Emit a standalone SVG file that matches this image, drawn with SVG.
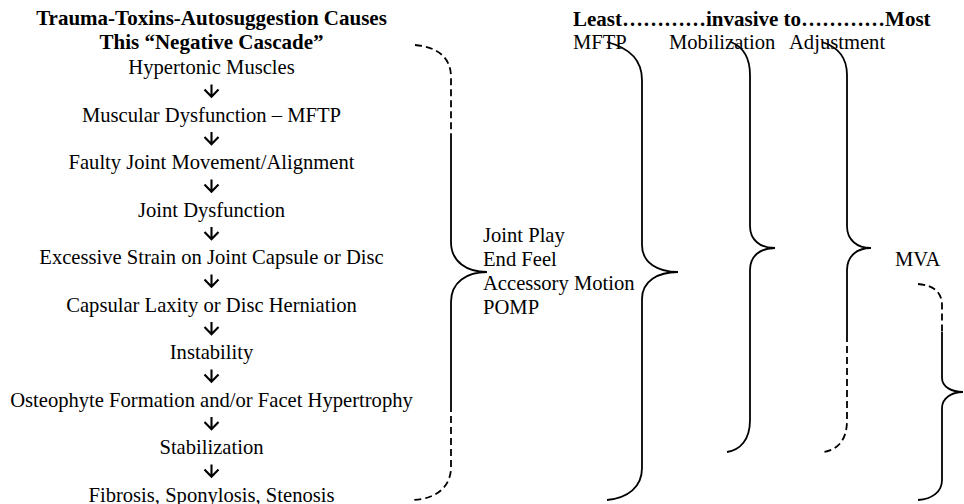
<svg xmlns="http://www.w3.org/2000/svg" width="964" height="504" viewBox="0 0 964 504">
<style>
text{font-family:"Liberation Serif","Times New Roman",serif;fill:#000;font-size:20.6px}
.b{font-weight:bold;font-size:21px}
.c{text-anchor:middle}
.br{fill:none;stroke:#000;stroke-width:1.8}
.d{stroke-dasharray:7 4}
.ar{fill:none;stroke:#000;stroke-width:2.1;stroke-linejoin:miter}
</style>
<defs>
<path id="arrow" class="ar" d="M211.5,84.5 L211.5,96.5 M204.5,89.5 L211.5,96.8 L218.5,89.5"/>
</defs>
<rect width="964" height="504" fill="#fff"/>
<g id="header-left">
<text class="b c" x="211.5" y="25">Trauma-Toxins-Autosuggestion Causes</text>
<text class="b c" x="211.5" y="48.5">This “Negative Cascade”</text>
</g>
<g id="header-right">
<text class="b" x="573" y="25.5">Least…………invasive to…………Most</text>
<text x="573" y="48.5">MFTP</text>
<text x="669" y="48.5">Mobilization</text>
<text x="789" y="48.5">Adjustment</text>
</g>
<g id="n1"><text class="c" x="211.5" y="74">Hypertonic Muscles</text></g>
<g id="n2"><text class="c" x="211.5" y="121.5">Muscular Dysfunction – MFTP</text></g>
<g id="n3"><text class="c" x="211.5" y="169">Faulty Joint Movement/Alignment</text></g>
<g id="n4"><text class="c" x="211.5" y="216.5">Joint Dysfunction</text></g>
<g id="n5"><text class="c" x="211.5" y="264">Excessive Strain on Joint Capsule or Disc</text></g>
<g id="n6"><text class="c" x="211.5" y="311.5">Capsular Laxity or Disc Herniation</text></g>
<g id="n7"><text class="c" x="211.5" y="359">Instability</text></g>
<g id="n8"><text class="c" x="211.5" y="406.5">Osteophyte Formation and/or Facet Hypertrophy</text></g>
<g id="n9"><text class="c" x="211.5" y="454">Stabilization</text></g>
<g id="n10"><text class="c" x="211.5" y="501.5">Fibrosis, Sponylosis, Stenosis</text></g>
<g id="connectors">
<use href="#arrow"/>
<use href="#arrow" transform="translate(0,47.5)"/>
<use href="#arrow" transform="translate(0,95)"/>
<use href="#arrow" transform="translate(0,142.5)"/>
<use href="#arrow" transform="translate(0,190)"/>
<use href="#arrow" transform="translate(0,237.5)"/>
<use href="#arrow" transform="translate(0,285)"/>
<use href="#arrow" transform="translate(0,332.5)"/>
<use href="#arrow" transform="translate(0,380)"/>
</g>
<g id="assessment">
<text x="483" y="241.5">Joint Play</text>
<text x="483" y="265.5">End Feel</text>
<text x="483" y="289.5">Accessory Motion</text>
<text x="483" y="313.5">POMP</text>
</g>
<g id="mva"><text x="895" y="266">MVA</text></g>
<g id="braces">
<path class="br d" d="M415,45 C438,47 451,58 451,77 L451,137"/>
<path class="br" d="M451,137 L451,242 C451,262 467,272 487,272 C467,272 451,282 451,302 L451,405"/>
<path class="br d" d="M451,405 L451,467 C451,487 436,499 413,500"/>
<path class="br" d="M607,42 C630,48 642,60 642,80 L642,245 C642,263 658,272 678,272 C658,272 642,281 642,299 L642,468 C642,487 628,498 607,500"/>
<path class="br" d="M731,42 C743,47 750,58 750,75 L750,226 C750,240 760,248 775,248 C760,248 750,256 750,270 L750,420 C750,440 740,450 727,452"/>
<path class="br" d="M822,42 C838,47 847,58 847,75 L847,226 C847,240 857,248 871,248 C857,248 847,256 847,270 L847,335"/>
<path class="br d" d="M847,335 L847,420 C847,440 838,450 823,452"/>
<path class="br d" d="M918,284 C933,285 942,292 942,305 L942,332"/>
<path class="br" d="M942,332 L942,378 C942,387 952,392 963,392 C952,392 942,398 942,408 L942,480 C942,492 932,499 918,500"/>
</g>
</svg>
